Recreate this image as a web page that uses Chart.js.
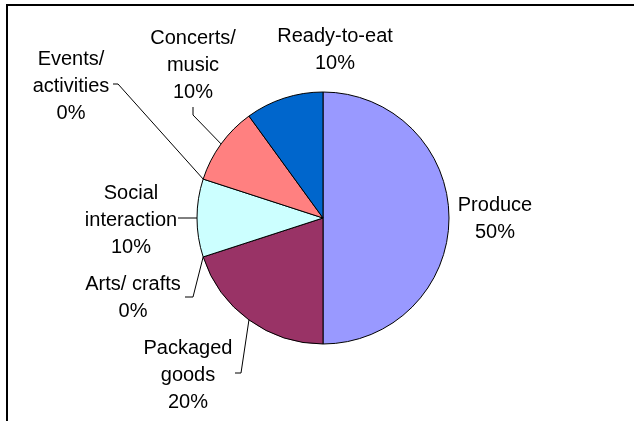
<!DOCTYPE html>
<html>
<head>
<meta charset="utf-8">
<title>Pie chart</title>
<script src="https://cdn.jsdelivr.net/npm/chart.js@4/dist/chart.umd.min.js"></script>
<style>
  html, body { margin: 0; padding: 0; background: #fff; }
  canvas { display: block; }
</style>
</head>
<body>
<canvas id="pieChart" width="634" height="421"></canvas>
<script>
// Data
const categories = ['Produce', 'Packaged goods', 'Arts/ crafts', 'Social interaction', 'Events/ activities', 'Concerts/ music', 'Ready-to-eat'];
const shares = [50, 20, 0, 10, 0, 10, 10];
const labelLines = [
    ['Produce'],
    ['Packaged', 'goods'],
    ['Arts/ crafts'],
    ['Social', 'interaction'],
    ['Events/', 'activities'],
    ['Concerts/', 'music'],
    ['Ready-to-eat']
];
const sliceColors = ['#9999FF', '#993366', '#FFFFC0', '#CCFFFF', '#660066', '#FF8080', '#0066CC'];

// label placement, relative to the pie centre (px)
const labelOffsets = [
    [172, 1], [-135, 157], [-190, 80], [-192, 2], [-252, -132], [-130, -153], [12, -168]
];
// short tick next to the text, the leader then runs to the slice edge
const leaderTicks = [
    null,
    [-88, 155, -82, 155],
    [-138, 79, -130, 79],
    [-145, 0, -140, 0],
    [-210, -134, -205, -134],
    [-130, -111, -130, -103],
    null
];

const lineHeight = 27;

const framePlugin = {
    id: 'frame',
    beforeDraw(chart) {
        const ctx = chart.ctx;
        ctx.save();
        ctx.strokeStyle = '#000';
        ctx.lineWidth = 2;
        ctx.beginPath();
        ctx.moveTo(7, chart.height);
        ctx.lineTo(7, 5);
        ctx.lineTo(chart.width, 5);
        ctx.stroke();
        ctx.restore();
    }
};

const labelPlugin = {
    id: 'sliceLabels',
    afterDraw(chart) {
        const ctx = chart.ctx;
        const arcs = chart.getDatasetMeta(0).data;
        ctx.save();
        ctx.font = '20px "Liberation Sans", Arial, sans-serif';
        ctx.fillStyle = '#000';
        ctx.textAlign = 'center';
        ctx.textBaseline = 'middle';
        arcs.forEach((arc, i) => {
            const p = arc.getProps(['x', 'y', 'startAngle', 'endAngle', 'outerRadius'], true);
            const lines = labelLines[i].concat([shares[i] + '%']);
            const cx = p.x + labelOffsets[i][0];
            const cy = p.y + labelOffsets[i][1];
            const top = cy - (lines.length - 1) * lineHeight / 2;
            lines.forEach((t, k) => ctx.fillText(t, cx, top + k * lineHeight));

            const tick = leaderTicks[i];
            if (tick) {
                const mid = (p.startAngle + p.endAngle) / 2;
                const ex = p.x + Math.cos(mid) * p.outerRadius;
                const ey = p.y + Math.sin(mid) * p.outerRadius;
                ctx.strokeStyle = '#000';
                ctx.lineWidth = 1;
                ctx.beginPath();
                ctx.moveTo(p.x + tick[0], p.y + tick[1]);
                ctx.lineTo(p.x + tick[2], p.y + tick[3]);
                ctx.lineTo(ex, ey);
                ctx.stroke();
            }
        });
        ctx.restore();
    }
};

const pieCtx = document.getElementById('pieChart').getContext('2d');
new Chart(pieCtx, {
    type: 'pie',
    data: {
        labels: categories,
        datasets: [{
            data: shares,
            backgroundColor: sliceColors,
            borderColor: '#000',
            borderWidth: 1,
            radius: 126
        }]
    },
    options: {
        responsive: false,
        animation: false,
        layout: { padding: { left: 12, right: 0, top: 15, bottom: 0 } },
        plugins: {
            legend: { display: false },
            tooltip: { enabled: false }
        }
    },
    plugins: [framePlugin, labelPlugin]
});
</script>
</body>
</html>
